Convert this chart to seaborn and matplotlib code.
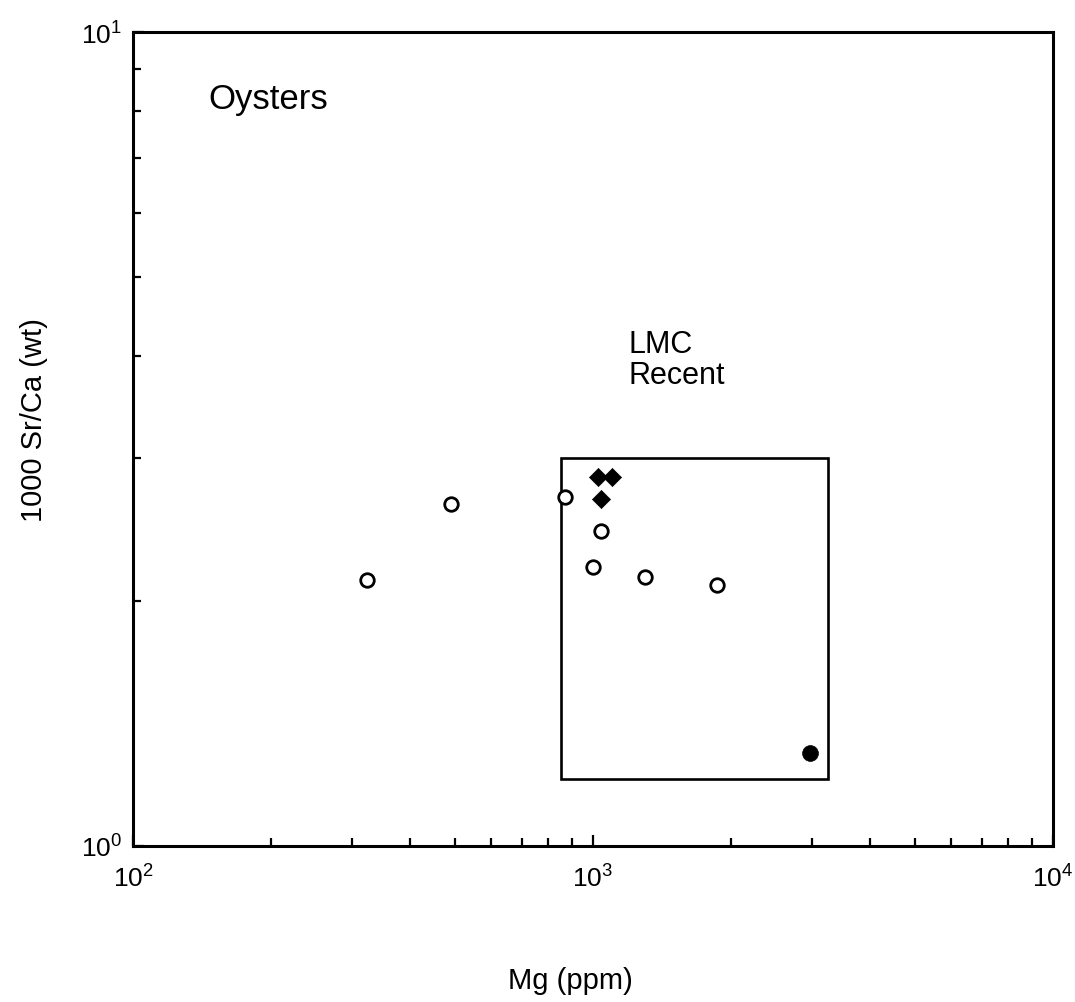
import matplotlib
matplotlib.use("Agg")
import matplotlib.pyplot as plt
import matplotlib.ticker as mticker
from matplotlib.patches import Rectangle
import seaborn as sns
import pandas as pd
import numpy as np

# ---- data ----
open_mg = [323, 491, 869, 1040, 1000, 1297, 1861]
open_sr = [2.12, 2.63, 2.68, 2.44, 2.20, 2.14, 2.09]

diamond_mg = [1026, 1100, 1040]
diamond_sr = [2.84, 2.84, 2.67]

filled_mg = [2963]
filled_sr = [1.30]

# LMC Recent field: Mg range, Sr/Ca range
lmc_mg = [850, 3250]
lmc_sr = [1.21, 3.0]

x_lim = [1e2, 1e4]
y_lim = [1e0, 1e1]

sns.set_theme(style="white")
plt.rcParams['font.family'] = ['Liberation Sans', 'DejaVu Sans']
plt.rcParams['mathtext.fontset'] = 'custom'
plt.rcParams['mathtext.rm'] = 'Liberation Sans'
plt.rcParams['mathtext.it'] = 'Liberation Sans'
plt.rcParams['mathtext.bf'] = 'Liberation Sans:bold'

fig = plt.figure(figsize=(10.75, 10.03), dpi=100)
ax = fig.add_axes([133/1075, 1-847/1003, 920/1075, 814/1003])

df_open = pd.DataFrame({"mg": open_mg, "sr": open_sr})
df_dia = pd.DataFrame({"mg": diamond_mg, "sr": diamond_sr})
df_fill = pd.DataFrame({"mg": filled_mg, "sr": filled_sr})

sns.scatterplot(data=df_open, x="mg", y="sr", ax=ax, marker="o", s=95,
                facecolor="white", edgecolor="black", linewidth=2.0, zorder=3)
sns.scatterplot(data=df_dia, x="mg", y="sr", ax=ax, marker="D", s=85,
                color="black", edgecolor="black", linewidth=0.5, zorder=3)
sns.scatterplot(data=df_fill, x="mg", y="sr", ax=ax, marker="o", s=130,
                color="black", edgecolor="black", linewidth=0.5, zorder=3)

ax.set_xscale("log")
ax.set_yscale("log")
ax.set_xlim(*x_lim)
ax.set_ylim(*y_lim)

ax.add_patch(Rectangle((lmc_mg[0], lmc_sr[0]), lmc_mg[1]-lmc_mg[0], lmc_sr[1]-lmc_sr[0],
                       fill=False, edgecolor="black", linewidth=1.9, zorder=2))

fmt = mticker.FuncFormatter(lambda v, p: r"$\mathregular{10^{%d}}$" % int(round(np.log10(v))))
ax.xaxis.set_major_locator(mticker.LogLocator(base=10, numticks=10))
ax.yaxis.set_major_locator(mticker.LogLocator(base=10, numticks=10))
ax.xaxis.set_major_formatter(fmt)
ax.yaxis.set_major_formatter(fmt)
ax.xaxis.set_minor_locator(mticker.LogLocator(base=10, subs=np.arange(2, 10), numticks=20))
ax.yaxis.set_minor_locator(mticker.LogLocator(base=10, subs=np.arange(2, 10), numticks=20))
ax.xaxis.set_minor_formatter(mticker.NullFormatter())
ax.yaxis.set_minor_formatter(mticker.NullFormatter())

ax.tick_params(which="both", direction="in", top=False, right=False,
               bottom=True, left=True, color="black", width=1.6,
               labelcolor="black")
ax.tick_params(which="major", length=8, labelsize=19)
ax.tick_params(axis="x", which="major", pad=13)
ax.tick_params(axis="y", which="major", pad=8)
ax.tick_params(which="minor", length=6)

for sp in ax.spines.values():
    sp.set_color("black")
    sp.set_linewidth(2.2)

ax.set_xlabel("Mg (ppm)", fontsize=21, color="black")
ax.set_ylabel("1000 Sr/Ca (wt)", fontsize=21, color="black")
ax.xaxis.set_label_coords(0.475, -0.147)
ax.yaxis.set_label_coords(-0.092, 0.525)

ax.text(0.0815, 0.907, "Oysters", transform=ax.transAxes, fontsize=25,
        ha="left", va="baseline", color="black")
ax.text(0.539, 0.635, "LMC\nRecent", transform=ax.transAxes, fontsize=22,
        ha="left", va="top", color="black", linespacing=1.05)

fig.savefig("out.png", dpi=100, facecolor="white")
